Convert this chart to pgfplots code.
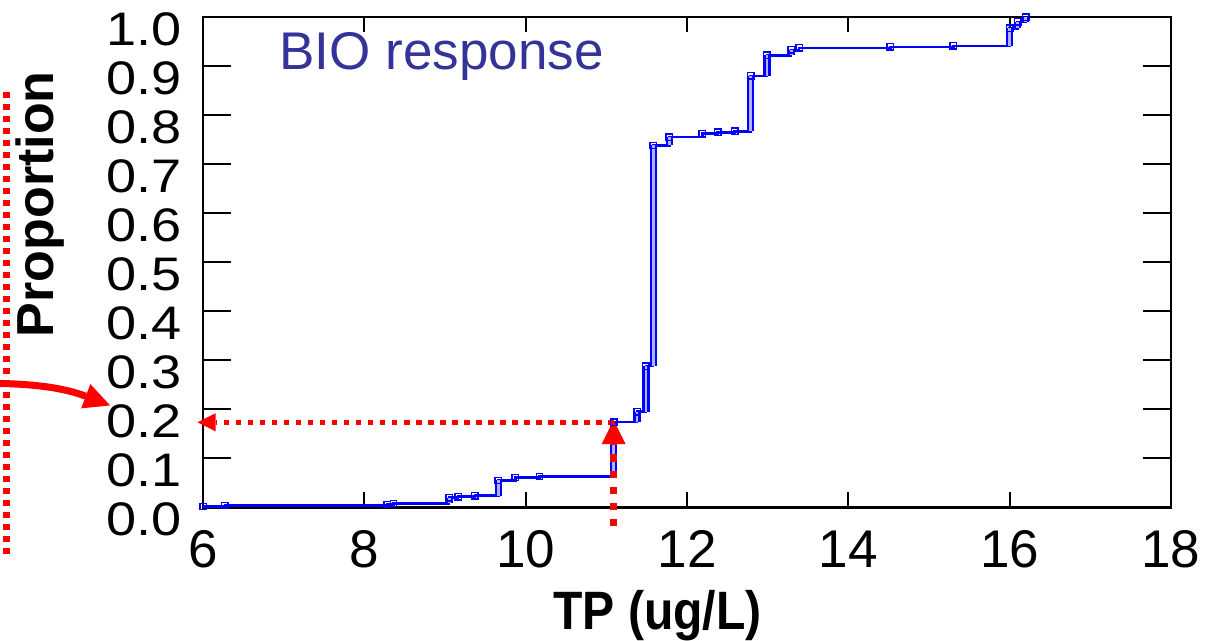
\documentclass[border=0pt]{standalone}
\usepackage{fontspec}
\setmainfont{Liberation Sans}
\usepackage{pgfplots}
\pgfplotsset{compat=1.18}
\usetikzlibrary{arrows.meta}
\definecolor{titleblue}{RGB}{51,51,153}
\pgfplotstableread{
x y
6.00 0.002
6.27 0.004
8.28 0.006
8.36 0.008
9.05 0.020
9.16 0.022
9.37 0.024
9.66 0.055
9.87 0.061
10.17 0.063
11.09 0.174
11.38 0.195
11.49 0.288
11.58 0.738
11.78 0.755
12.19 0.762
12.38 0.765
12.59 0.767
12.79 0.880
12.99 0.922
13.29 0.933
13.39 0.937
14.52 0.939
15.30 0.941
16.00 0.977
16.10 0.990
16.20 1.000
}\ecdf
\begin{document}
\begin{tikzpicture}
\useasboundingbox (-101.5pt,-66.5pt) rectangle (501pt,253.5pt);
\pgfplotsset{common/.style={scale only axis, width=483.5pt, height=245pt,
  xmin=6, xmax=18, ymin=0, ymax=1,
  axis line style={line width=1.2pt},
  tick style={line width=1pt, black},
  tick align=inside, clip=false,
  /pgf/number format/assume math mode=true}}
% axis with x ticks (short)
\begin{axis}[common, xtick={6,8,10,12,14,16,18}, ytick=\empty,
  major tick length=7.5pt, xtick pos=both,
  xticklabel style={font=\fontsize{26.5}{30}\selectfont, inner sep=0pt, anchor=north, yshift=-11.5pt}]
\end{axis}
% axis with y ticks (long) and data
\begin{axis}[common, xtick=\empty, ytick={0,0.1,0.2,0.3,0.4,0.5,0.6,0.7,0.8,0.9,1},
  major tick length=14pt, ytick pos=both,
  yticklabel={\scalebox{1.15}[1]{\pgfmathprintnumber[fixed,fixed zerofill,precision=1]{\tick}}},
  yticklabel style={font=\fontsize{23.5}{28}\selectfont, inner sep=0pt, anchor=east, xshift=-10.5pt, yshift=-6pt}]
\addplot[const plot, blue, line width=1.3pt, mark=square, mark size=1.6pt,
  mark options={solid, line width=0.7pt}] table[x=x,y=y] {\ecdf};
% vertical jumps drawn as stacked markers
\pgfplotsset{stack/.style={draw=blue, line width=1.1pt, double=blue!30!white, double distance=1.4pt, forget plot}}
\addplot[stack] coordinates {(9.05,0.008) (9.05,0.020)};
\addplot[stack] coordinates {(9.66,0.024) (9.66,0.055)};
\addplot[stack] coordinates {(11.09,0.063) (11.09,0.174)};
\addplot[stack] coordinates {(11.38,0.174) (11.38,0.195)};
\addplot[stack] coordinates {(11.49,0.195) (11.49,0.288)};
\addplot[stack] coordinates {(11.58,0.288) (11.58,0.738)};
\addplot[stack] coordinates {(11.78,0.738) (11.78,0.755)};
\addplot[stack] coordinates {(12.79,0.767) (12.79,0.880)};
\addplot[stack] coordinates {(12.99,0.880) (12.99,0.922)};
\addplot[stack] coordinates {(13.29,0.922) (13.29,0.933)};
\addplot[stack] coordinates {(16.00,0.941) (16.00,0.977)};
\addplot[stack] coordinates {(16.10,0.977) (16.10,0.990)};
\addplot[stack] coordinates {(16.20,0.990) (16.20,1.000)};
% annotations
\draw[red, line width=3.5pt, dash pattern=on 3pt off 3pt] (axis cs:3.556,0.847) -- (axis cs:3.556,-0.108);
\draw[red, line width=3.5pt, -{Triangle[length=13pt,width=13pt,line width=0pt]}] (axis cs:3.40,0.253) to[bend left=10] (axis cs:4.846,0.208);
\draw[red, line width=2.6pt, dash pattern=on 2.6pt off 3.4pt, -{Triangle[length=9pt,width=9pt,line width=0pt]}] (axis cs:11.09,0.1735) -- (axis cs:5.93,0.1735);
\draw[red, line width=3.5pt, dash pattern=on 3.5pt off 4.5pt, -{Triangle[length=12pt,width=12pt,line width=0pt]}] (axis cs:11.09,-0.037) -- (axis cs:11.09,0.178);
\node[anchor=base west, text=titleblue, font=\fontsize{26.5}{30}\selectfont, inner sep=0pt] at (axis cs:6.94,0.892) {BIO response};
\node[anchor=base, font=\bfseries\fontsize{27}{30}\selectfont, inner sep=0pt] at (axis cs:11.633,-0.249) {\scalebox{0.89}[1]{TP (ug/L)}};
\node[anchor=base, rotate=90, font=\bfseries\fontsize{26}{30}\selectfont, inner sep=0pt] at (axis cs:4.139,0.618) {Proportion};
\end{axis}
\end{tikzpicture}
\end{document}
